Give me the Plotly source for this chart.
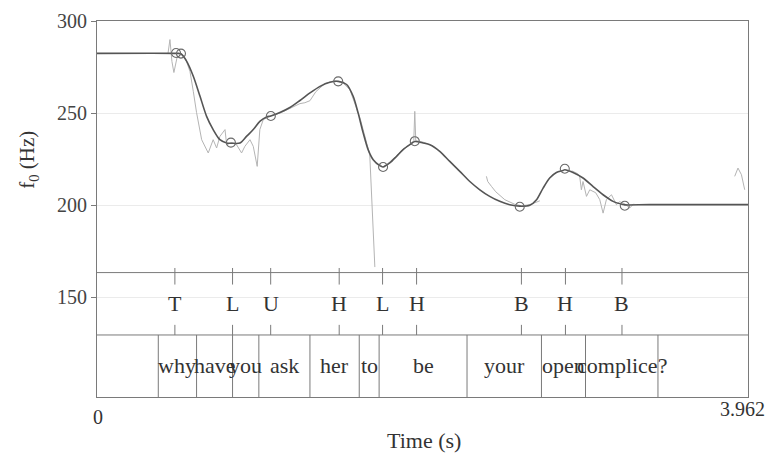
import plotly.graph_objects as go

# ---------------- data ----------------
T_END = 3.962

# smooth (stylised) f0 contour: time (s), f0 (Hz)
smooth_t = [0.000, 0.481, 0.511, 0.546, 0.586, 0.627, 0.667, 0.707, 0.748, 0.789, 0.817,
            0.870, 0.910, 0.951, 0.991, 1.032, 1.058, 1.113, 1.174, 1.235, 1.296, 1.357,
            1.417, 1.468, 1.519, 1.559, 1.589, 1.620, 1.650, 1.681, 1.721, 1.741, 1.782,
            1.823, 1.863, 1.904, 1.934, 1.985, 2.026, 2.086, 2.147, 2.208, 2.269, 2.330,
            2.390, 2.451, 2.512, 2.573, 2.634, 2.675, 2.715, 2.755, 2.796, 2.836, 2.847,
            2.897, 2.958, 3.018, 3.080, 3.141, 3.201, 3.212, 3.364, 3.962]
smooth_f = [282.4, 282.4, 282.2, 278.1, 270.0, 259.1, 248.2, 241.0, 235.5, 233.7, 233.6,
            233.7, 237.3, 241.0, 245.5, 247.9, 248.4, 250.3, 253.0, 256.8, 260.9, 264.5,
            266.7, 267.2, 265.5, 259.1, 250.1, 239.2, 230.1, 224.6, 221.4, 220.7, 222.9,
            226.4, 230.1, 232.8, 234.5, 233.7, 232.8, 229.2, 223.7, 218.3, 212.8, 208.3,
            204.7, 202.0, 200.2, 199.4, 199.9, 202.9, 209.2, 214.7, 217.7, 218.8, 219.2,
            217.7, 214.7, 210.1, 205.6, 202.0, 200.3, 200.1, 200.2, 200.2]

# raw f0 track (None = unvoiced gap)
raw_t = [0.432, 0.444, 0.456, 0.468, 0.487, 0.511, 0.541, 0.566, 0.586, 0.606, 0.637,
         0.677, 0.707, 0.728, 0.748, 0.779, 0.789, 0.819, 0.849, 0.880, 0.900, 0.931,
         0.951, 0.975, 0.991, 1.012, 1.058, 1.113, 1.174, 1.235, 1.265, 1.296, 1.332,
         1.387, 1.448, 1.496, 1.539, 1.600, 1.636, 1.660, 1.691, None,
         1.721, 1.740, 1.782, 1.825, 1.861, 1.904, 1.928, 1.934, 1.940, 1.977, 2.013, None,
         2.370, 2.378, 2.401, 2.427, 2.482, 2.543, 2.585, 2.634, 2.695, None,
         2.889, 2.926, 2.938, 2.948, 2.958, 2.979, 2.999, 3.035, 3.060, 3.080, 3.100,
         3.131, 3.161, 3.181, 3.212, 3.242, 3.266, None,
         3.881, 3.901, 3.922, 3.931, 3.942]
raw_f = [282.3, 289.9, 278.0, 272.0, 280.1, 281.8, 279.1, 272.5, 261.8, 250.2, 235.5,
         228.3, 235.5, 231.0, 237.3, 241.0, 232.8, 233.9, 232.8, 228.3, 231.9, 235.5,
         231.9, 221.0, 241.0, 246.4, 248.6, 249.9, 252.5, 255.1, 255.6, 256.7, 261.6,
         266.0, 267.6, 266.5, 262.7, 247.5, 235.5, 227.4, 166.3, None,
         222.3, 220.7, 223.4, 226.8, 230.1, 232.8, 235.0, 250.9, 235.0, 234.4, 233.3, None,
         215.6, 212.8, 210.1, 207.2, 202.9, 200.4, 199.6, 200.2, 202.3, None,
         218.6, 217.0, 215.3, 208.3, 212.8, 204.7, 208.3, 206.7, 202.9, 195.6, 202.9,
         205.6, 200.2, 201.8, 200.7, 198.4, 200.7, None,
         215.6, 220.1, 216.5, 212.0, 208.3]

# target points (circles)
target_t = [0.481, 0.511, 0.815, 1.058, 1.468, 1.741, 1.934, 2.573, 2.847, 3.212]
target_f = [282.6, 282.3, 233.9, 248.4, 267.2, 220.7, 234.7, 199.1, 219.7, 199.6]

# tone tier
tone_labels = ["T", "L", "U", "H", "L", "H", "B", "H", "B"]
tone_times = [0.474, 0.825, 1.057, 1.474, 1.738, 1.945, 2.583, 2.851, 3.195]

# word tier
word_labels = ["why", "have", "you", "ask", "her", "to", "be", "your", "open", "complice?"]
word_bounds = [0.373, 0.606, 0.825, 0.985, 1.296, 1.596, 1.717, 2.252, 2.705, 2.973, 3.414]

y_ticks = [150, 200, 250, 300]

# ---------------- layout constants ----------------
Y_MIN, Y_MAX = 95.7, 300.0
TONE_TOP, TIER_MID = 163.3, 129.4
FONT = "Liberation Serif"
TXT = "#333333"
LINE = "#7a7a7a"

fig = go.Figure()

fig.add_trace(go.Scatter(x=raw_t, y=raw_f, mode="lines", connectgaps=False,
                         line=dict(color="#b4b4b4", width=1), hoverinfo="skip"))
fig.add_trace(go.Scatter(x=smooth_t, y=smooth_f, mode="lines",
                         line=dict(color="#555555", width=1.6, shape="spline", smoothing=0.8)))
fig.add_trace(go.Scatter(x=target_t, y=target_f, mode="markers",
                         marker=dict(symbol="circle-open", size=9, color="#6a6a6a",
                                     line=dict(width=1.1, color="#6a6a6a"))))

shapes = []
for yv in (TONE_TOP, TIER_MID):
    shapes.append(dict(type="line", xref="x", yref="y", x0=0, x1=T_END, y0=yv, y1=yv,
                       line=dict(color=LINE, width=1)))
for b in word_bounds:
    shapes.append(dict(type="line", xref="x", yref="y", x0=b, x1=b, y0=Y_MIN, y1=TIER_MID,
                       line=dict(color=LINE, width=1)))
for tt in tone_times:
    shapes.append(dict(type="line", xref="x", yref="y", x0=tt, x1=tt, y0=TONE_TOP + 2.5,
                       y1=TONE_TOP - 6.5, line=dict(color=LINE, width=1)))
    shapes.append(dict(type="line", xref="x", yref="y", x0=tt, x1=tt, y0=TIER_MID,
                       y1=TIER_MID + 5.5, line=dict(color=LINE, width=1)))

annotations = []
for lab, tt in zip(tone_labels, tone_times):
    annotations.append(dict(x=tt, y=(TONE_TOP + TIER_MID) / 2, xref="x", yref="y", text=lab,
                            xanchor="center", yanchor="middle", showarrow=False,
                            font=dict(family=FONT, size=22, color=TXT)))
for i, w in enumerate(word_labels):
    annotations.append(dict(x=(word_bounds[i] + word_bounds[i + 1]) / 2,
                            y=(TIER_MID + Y_MIN) / 2, xref="x", yref="y", text=w,
                            xanchor="center", yanchor="middle", showarrow=False,
                            font=dict(family=FONT, size=22, color=TXT)))
annotations += [
    dict(x=0.0015, y=-0.053, xref="paper", yref="paper", text="0", showarrow=False,
         xanchor="center", yanchor="middle", font=dict(family=FONT, size=20, color=TXT)),
    dict(x=0.991, y=-0.031, xref="paper", yref="paper", text="3.962", showarrow=False,
         xanchor="center", yanchor="middle", font=dict(family=FONT, size=20, color=TXT)),
    dict(x=0.502, y=-0.1145, xref="paper", yref="paper", text="Time (s)", showarrow=False,
         xanchor="center", yanchor="middle", font=dict(family=FONT, size=22, color=TXT)),
    dict(x=-0.106, y=0.631, xref="paper", yref="paper", text="f<sub>0</sub> (Hz)",
         showarrow=False, textangle=-90, xanchor="center", yanchor="middle",
         font=dict(family=FONT, size=21, color=TXT)),
]

# page has an 8px body margin, so the figure is made 8px smaller and margins shifted
fig.update_layout(
    width=768, height=446,
    margin=dict(l=89, r=27.5, t=13, b=57, autoexpand=False),
    paper_bgcolor="white", plot_bgcolor="white",
    showlegend=False,
    shapes=shapes, annotations=annotations,
    xaxis=dict(range=[0, T_END], showgrid=False, zeroline=False, showticklabels=False,
               ticks="", showline=True, mirror=True, linecolor=LINE, linewidth=1,
               automargin=False),
    yaxis=dict(range=[Y_MIN, Y_MAX], tickvals=y_ticks, showgrid=True, gridcolor="#ebebeb",
               gridwidth=1, zeroline=False, ticks="outside", ticklen=5, tickcolor=LINE,
               showline=True, mirror=True, linecolor=LINE, linewidth=1, automargin=False,
               tickfont=dict(family=FONT, size=20, color="#444444")),
)

fig.write_html("out.html")
